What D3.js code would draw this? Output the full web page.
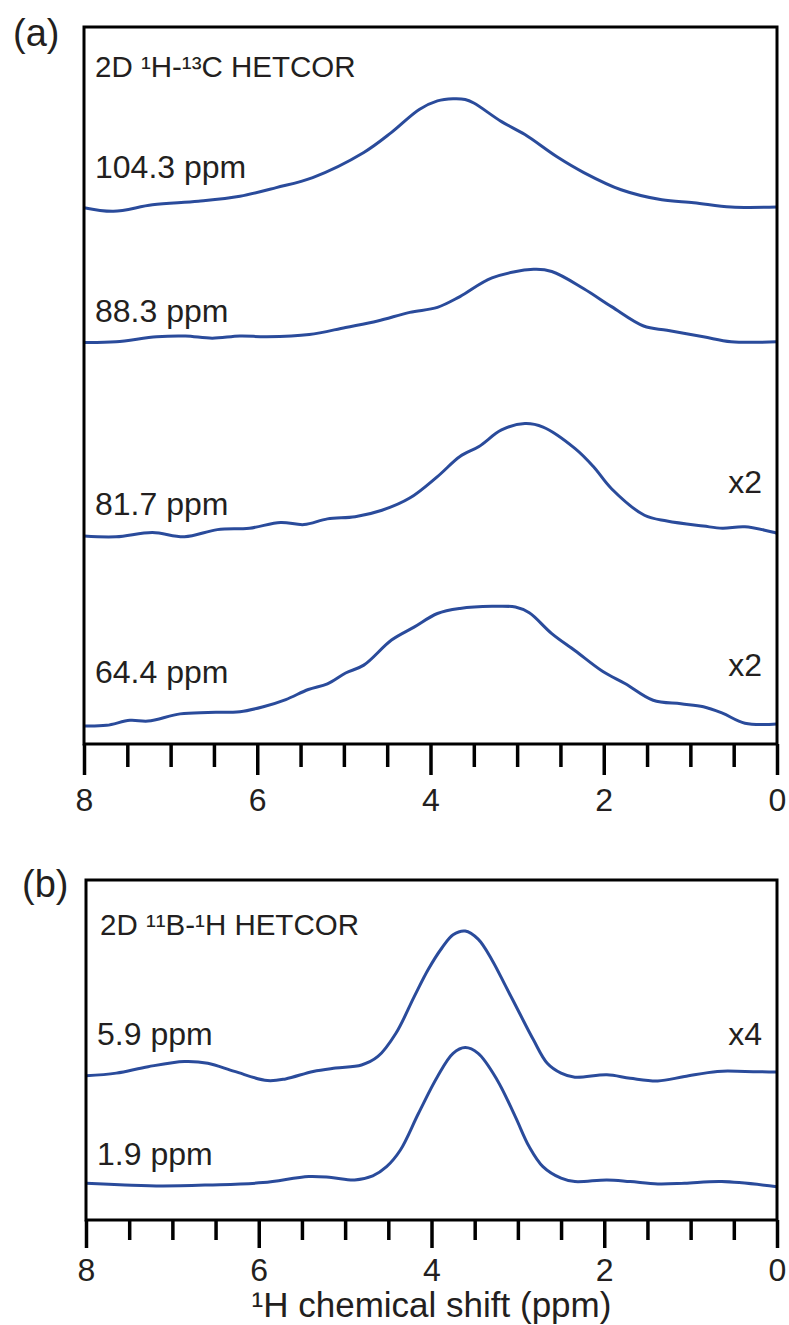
<!DOCTYPE html>
<html><head><meta charset="utf-8">
<script src="https://cdn.jsdelivr.net/npm/d3@7"></script>
<style>
html,body{margin:0;padding:0;background:#fff;}
svg text{font-family:"Liberation Sans",Arial,Helvetica,sans-serif;fill:#231f20;}
</style></head><body>
<svg id="chart" width="789" height="1325"></svg>
<script>
// ---------------- data ----------------
const majorTicks = [8, 6, 4, 2, 0];
const minorTicks = [7.5, 7, 6.5, 5.5, 5, 4.5, 3.5, 3, 2.5, 1.5, 1, 0.5];
const axisTitle = "¹H chemical shift (ppm)";

// Panel (a): 2D 1H-13C HETCOR slices (intensity above each trace's own baseline)
const c104_ppm = [8.00,7.66,7.21,6.68,6.20,5.78,5.36,4.77,4.45,4.13,3.92,3.74,3.60,3.50,3.18,2.91,2.54,2.23,1.80,1.33,0.96,0.53,0.00];
const c104_int = [0.0,-0.5,0.4,0.9,1.6,2.8,4.2,7.7,10.5,13.7,14.9,15.2,15.1,14.6,12.0,10.2,7.1,4.9,2.5,1.1,0.7,0.1,0.1];
const c88_ppm = [8.00,7.63,7.16,6.83,6.52,6.20,5.89,5.40,4.98,4.61,4.24,3.92,3.66,3.29,2.81,2.60,2.23,1.91,1.54,1.27,0.85,0.53,0.00];
const c88_int = [-0.1,0.0,0.7,0.8,0.5,0.8,0.7,1.0,2.0,2.9,4.1,4.8,6.3,8.9,10.1,9.8,7.4,4.9,2.2,1.6,0.7,0.0,0.0];
const c82_ppm = [8.00,7.63,7.21,6.84,6.46,6.09,5.73,5.46,5.19,4.87,4.56,4.24,3.92,3.66,3.44,3.18,2.91,2.70,2.33,2.12,1.91,1.53,1.27,0.85,0.63,0.37,0.00];
const c82_int = [0.0,-0.1,0.5,-0.1,0.9,1.1,1.9,1.6,2.4,2.7,3.6,5.3,8.3,11.1,12.5,14.8,15.7,15.2,12.2,9.7,6.6,2.9,2.1,1.4,1.1,1.3,0.4];
const c64_ppm = [8.00,7.74,7.47,7.26,6.89,6.57,6.20,5.93,5.67,5.41,5.19,4.98,4.77,4.45,4.19,3.92,3.66,3.29,3.02,2.86,2.60,2.33,2.01,1.75,1.43,1.11,0.85,0.63,0.37,0.00];
const c64_int = [0.0,0.1,0.8,0.7,1.7,1.9,2.0,2.7,3.7,5.1,5.9,7.4,8.5,12.0,13.8,15.7,16.4,16.7,16.6,15.8,12.9,10.5,7.6,5.9,3.6,3.1,2.7,1.8,0.4,0.3];

const labelsA  = ["104.3 ppm", "88.3 ppm", "81.7 ppm", "64.4 ppm"];
const offsetsA = [74.8, 56.1, 29.0, 2.5];
const factorsA = ["", "", "x2", "x2"];

// Panel (b): 2D 11B-1H HETCOR slices
const b59_ppm = [8.00,7.65,7.28,6.86,6.59,6.28,5.90,5.69,5.37,5.11,4.81,4.62,4.41,4.20,4.04,3.88,3.75,3.61,3.46,3.30,3.14,2.98,2.82,2.66,2.50,2.34,1.97,1.70,1.38,1.07,0.69,0.37,0.00];
const b59_int = [0.0,0.8,2.7,4.2,3.7,1.3,-1.4,-0.9,1.3,2.3,3.2,5.7,12.6,23.3,31.2,37.6,41.5,42.6,40.2,34.1,26.3,18.4,10.6,3.7,0.8,-0.4,0.3,-0.7,-1.5,-0.2,1.3,1.3,1.1];
const b19_ppm = [8.00,7.55,7.12,6.59,5.95,5.42,5.16,4.89,4.68,4.52,4.36,4.15,3.93,3.75,3.61,3.46,3.24,3.03,2.87,2.71,2.50,2.34,1.97,1.70,1.38,1.07,0.64,0.00];
const b19_int = [-0.1,-0.6,-0.9,-0.6,0.1,1.9,1.6,0.9,2.1,4.8,9.7,20.5,31.3,38.1,39.8,38.1,30.3,19.5,10.7,4.8,1.4,0.4,0.9,0.4,-0.3,-0.1,0.4,-1.1];

const labelsB  = ["5.9 ppm", "1.9 ppm"];
const offsetsB = [42.4, 10.9];
const factorsB = ["x4", ""];

// ---------------- layout ----------------
const svg = d3.select("#chart");
const traceColor = "#2a4b9b";
const inkColor = "#231f20";

const panels = [
  {
    tag: "(a)", tagX: 13, tagY: 46,
    header: "2D ¹H-¹³C HETCOR", headerX: 95, headerY: 77, headerSize: 29.5,
    left: 84, right: 777, top: 27, bottom: 744,
    majorLen: 31, minorLen: 23, labelPad: 13,
    traces: [[c104_ppm, c104_int], [c88_ppm, c88_int], [c82_ppm, c82_int], [c64_ppm, c64_int]],
    labels: labelsA, offsets: offsetsA, factors: factorsA,
    labelY: [178, 322, 515, 683], factorY: [0, 0, 493, 676]
  },
  {
    tag: "(b)", tagX: 22, tagY: 897,
    header: "2D ¹¹B-¹H HETCOR", headerX: 100, headerY: 935, headerSize: 29.5,
    left: 86, right: 777, top: 880, bottom: 1220,
    majorLen: 28, minorLen: 20, labelPad: 10,
    traces: [[b59_ppm, b59_int], [b19_ppm, b19_int]],
    labels: labelsB, offsets: offsetsB, factors: factorsB,
    labelY: [1045, 1165], factorY: [1045, 0]
  }
];

panels.forEach(p => {
  const x = d3.scaleLinear().domain([8, 0]).range([p.left, p.right]);
  const y = d3.scaleLinear().domain([0, 100]).range([p.bottom, p.top]);
  const g = svg.append("g");

  // traces
  p.traces.forEach((t, i) => {
    const pts = t[0].map((v, k) => [v, t[1][k] + p.offsets[i]]);
    const line = d3.line().x(d => x(d[0])).y(d => y(d[1])).curve(d3.curveCatmullRom.alpha(0.5));
    g.append("path").datum(pts)
      .attr("d", line)
      .attr("fill", "none")
      .attr("stroke", traceColor)
      .attr("stroke-width", 3)
      .attr("stroke-linejoin", "round");
  });

  // frame
  g.append("rect")
    .attr("x", p.left).attr("y", p.top)
    .attr("width", p.right - p.left).attr("height", p.bottom - p.top)
    .attr("fill", "none").attr("stroke", "#000").attr("stroke-width", 3);

  // minor ticks
  const minorAxis = d3.axisBottom(x).tickValues(minorTicks).tickSize(p.minorLen).tickFormat("");
  const gm = g.append("g").attr("transform", `translate(0,${p.bottom})`).call(minorAxis);
  gm.select(".domain").remove();
  gm.selectAll("line").attr("stroke", "#000").attr("stroke-width", 3.5);

  // major ticks + labels
  const majorAxis = d3.axisBottom(x).tickValues(majorTicks).tickSize(p.majorLen).tickPadding(p.labelPad).tickFormat(d3.format("d"));
  const gM = g.append("g").attr("transform", `translate(0,${p.bottom})`).call(majorAxis);
  gM.select(".domain").remove();
  gM.selectAll("line").attr("stroke", "#000").attr("stroke-width", 3.5);
  gM.selectAll("text")
    .attr("font-family", '"Liberation Sans", Arial, sans-serif')
    .attr("font-size", 32).attr("fill", inkColor);

  // panel tag
  g.append("text").attr("x", p.tagX).attr("y", p.tagY)
    .attr("font-size", 38).text(p.tag);
  // header
  g.append("text").attr("x", p.headerX).attr("y", p.headerY)
    .attr("font-size", p.headerSize).text(p.header);

  // trace labels
  p.labels.forEach((l, i) => {
    g.append("text").attr("x", p.left + 11).attr("y", p.labelY[i])
      .attr("font-size", 32).text(l);
    if (p.factors[i]) {
      g.append("text").attr("x", 762).attr("y", p.factorY[i])
        .attr("text-anchor", "end").attr("font-size", 32).text(p.factors[i]);
    }
  });

  if (p.tag === "(b)") {
    svg.append("text")
      .attr("x", (p.left + p.right) / 2).attr("y", 1317)
      .attr("text-anchor", "middle").attr("font-size", 35)
      .text(axisTitle);
  }
});
</script>
</body></html>
